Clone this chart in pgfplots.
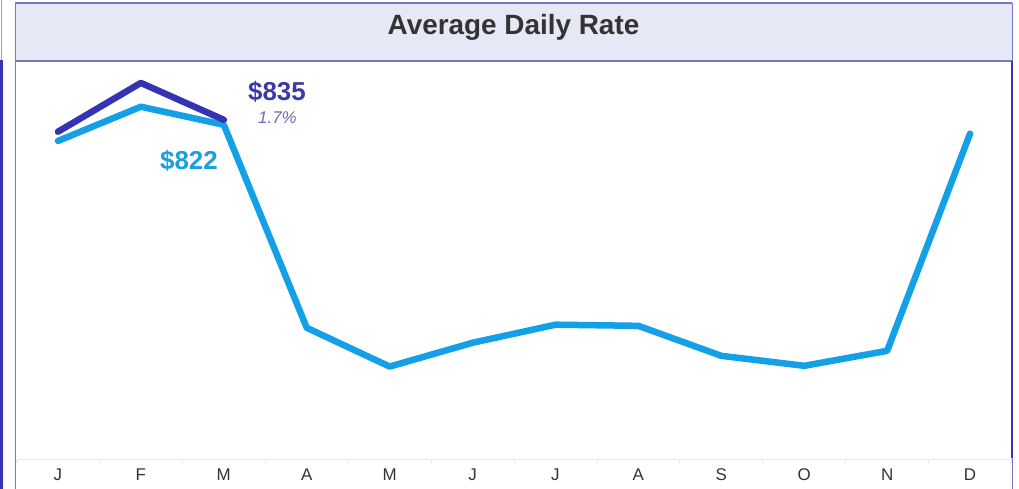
\documentclass[border=0pt]{standalone}
\usepackage{fontspec}
\setmainfont{Liberation Sans}
\usepackage{pgfplots}
\pgfplotsset{compat=1.18}

\definecolor{lineLight}{HTML}{14A0E6}
\definecolor{lineDark}{HTML}{3434B2}
\definecolor{lblDark}{HTML}{3A3AA8}
\definecolor{lblPct}{HTML}{6B6BB8}
\definecolor{lblLight}{HTML}{18A0E0}
\definecolor{barFill}{HTML}{E6E8F6}
\definecolor{frameLight}{HTML}{7676CC}
\definecolor{frameDark}{HTML}{3636B4}
\definecolor{titleText}{HTML}{333333}
\definecolor{tickText}{HTML}{333333}

\begin{document}
\begin{tikzpicture}
% page, 1019 x 489 bp, y measured upward
\begin{scope}[x=1bp,y=1bp]
\path[use as bounding box, fill=white] (0,0) rectangle (1019,489);

% edge of neighbouring panel
\draw[frameLight!70, line width=1.2bp] (1.5,489) -- (1.5,429);
\draw[frameDark, line width=3bp] (1.5,429) -- (1.5,0);

% title bar
\fill[barFill] (15,486) rectangle (1012,428);
\draw[frameLight, line width=1.5bp] (15,486) -- (1012,486);
\draw[frameLight, line width=1.5bp] (15,428) -- (1012,428);
\draw[frameLight, line width=1bp] (15,486) -- (15,0);
\draw[frameLight, line width=1bp] (1012,486) -- (1012,428);
\draw[frameDark, line width=2bp] (1012,428) -- (1012,31);
\draw[frameLight, line width=1bp] (1012,31) -- (1012,0);
\node[anchor=base, text=titleText, font=\fontsize{28}{32}\selectfont\bfseries]
  at (513.5,454) {Average Daily Rate};
\end{scope}

\begin{axis}[
    at={(16.5bp,29bp)}, anchor=south west,
    scale only axis,
    width=995bp, height=399bp,
    xmin=-0.5, xmax=11.5,
    ymin=-50, ymax=988,
    axis x line=bottom, axis y line=none,
    x axis line style={-, draw=gray!18, line width=1bp},
    xtick={0,...,11},
    xticklabels={J,F,M,A,M,J,J,A,S,O,N,D},
    minor xtick={-0.5,0.5,...,11.5},
    major tick length=0pt,
    minor tick length=3bp,
    tick align=outside,
    every minor tick/.append style={draw=gray!22, line width=0.8bp},
    ytick=\empty,
    xticklabel style={font=\fontsize{17}{20}\selectfont, text=tickText, yshift=-5bp},
    clip=false,
]
% light series: full year
\addplot[lineLight, line width=6.5bp, line join=round, line cap=round] coordinates {
  (0,780) (1,869) (2,822) (3,294) (4,193) (5,255)
  (6,302) (7,299) (8,221) (9,195) (10,234) (11,799)
};
% dark series: year to date
\addplot[lineDark, line width=6.5bp, line join=round, line cap=round] coordinates {
  (0,804) (1,931) (2,835)
};
\end{axis}

% value labels
\begin{scope}[x=1bp,y=1bp]
\node[anchor=base, text=lblDark, font=\fontsize{26}{30}\selectfont\bfseries] at (277,388) {\$835};
\node[anchor=base, text=lblPct, font=\fontsize{17}{20}\selectfont\itshape] at (277.5,365) {1.7\%};
\node[anchor=base, text=lblLight, font=\fontsize{26}{30}\selectfont\bfseries] at (189,319) {\$822};
\end{scope}
\end{tikzpicture}
\end{document}
